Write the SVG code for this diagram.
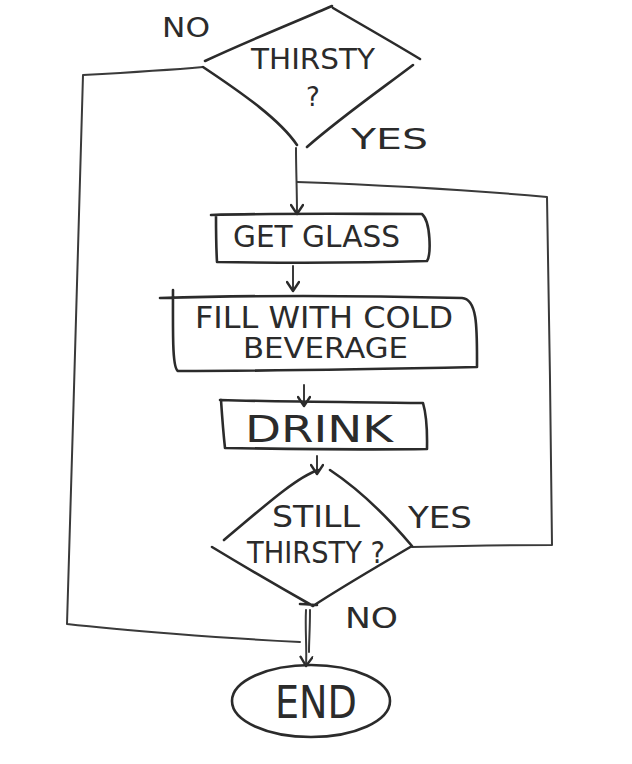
<svg xmlns="http://www.w3.org/2000/svg" width="632" height="764" viewBox="0 0 632 764">
<defs>
<style>
.s{fill:none;stroke:#2b2b2b;stroke-width:2.6;stroke-linecap:round;stroke-linejoin:round}
.c{fill:none;stroke:#3a3a3a;stroke-width:2;stroke-linecap:round;stroke-linejoin:round}
.t{font-family:"DejaVu Sans",sans-serif;fill:#2b2b2b;font-weight:400}
</style>
<marker id="ah" viewBox="0 0 14 14" refX="12" refY="7" markerWidth="14" markerHeight="14" markerUnits="userSpaceOnUse" orient="auto">
<path d="M3,1 L12,7 L3,13" fill="none" stroke="#2b2b2b" stroke-width="2.4" stroke-linecap="round" stroke-linejoin="round"/>
</marker>
</defs>
<rect width="632" height="764" fill="#ffffff"/>
<g id="connectors">
<path class="c" d="M203,67 C170,70 120,73 83,75 C80,200 72,450 67,624 C120,630 220,638 300,642"/>
<path class="c" d="M296,148 C296,170 297,190 297,214" marker-end="url(#ah)"/>
<path class="c" d="M297,182 C380,185 470,190 547,197 C549,300 551,440 552,545 C500,545 450,546 412,547"/>
<path class="c" d="M293,266 L293,291" marker-end="url(#ah)"/>
<path class="c" d="M304,385 L304,406" marker-end="url(#ah)"/>
<path class="c" d="M317,456 L317,474" marker-end="url(#ah)"/>
<path class="c" d="M306,610 C305,630 307,648 306,666" marker-end="url(#ah)"/>
<path class="c" d="M310,610 C310,630 309,640 309,652"/>
</g>
<g id="thirsty">
<path class="s" d="M205,61 C250,40 300,20 332,6 M333,8 C362,25 392,42 420,59 M413,65 C380,90 340,118 307,147 M297,145 C280,120 245,95 203,67"/>
<text class="t" x="251" y="69" font-size="29" textLength="124" lengthAdjust="spacingAndGlyphs">THIRSTY</text>
<text class="t" x="306" y="106" font-size="26">?</text>
</g>
<g id="label-no-top">
<text class="t" x="162" y="37" font-size="26" textLength="48" lengthAdjust="spacingAndGlyphs">NO</text>
</g>
<g id="label-yes-top">
<text class="t" x="351" y="149" font-size="29" textLength="77" lengthAdjust="spacingAndGlyphs">YES</text>
</g>
<g id="getglass">
<path class="s" d="M211,215 C280,213 360,214 422,214 C431,222 431,255 427,261 C360,263 280,263 217,262 C216,245 216,230 216,215"/>
<text class="t" x="233" y="247" font-size="30" textLength="167" lengthAdjust="spacingAndGlyphs">GET GLASS</text>
</g>
<g id="fill">
<path class="s" d="M160,298 C260,295 380,296 462,298 C478,299 477,330 477,367 C380,369 270,371 178,371 C172,368 173,330 173,290"/>
<text class="t" x="195" y="328" font-size="30" textLength="258" lengthAdjust="spacingAndGlyphs">FILL  WITH COLD</text>
<text class="t" x="243" y="358" font-size="28" textLength="165" lengthAdjust="spacingAndGlyphs">BEVERAGE</text>
</g>
<g id="drink">
<path class="s" d="M220,400 C290,402 360,402 423,403 C428,420 427,440 427,449 C360,450 290,449 225,448 C223,430 222,415 221,400"/>
<text class="t" x="245" y="442" font-size="38" textLength="148" lengthAdjust="spacingAndGlyphs">DRINK</text>
</g>
<g id="still">
<path class="s" d="M224,540 C260,510 295,478 318,470 M330,470 C360,490 390,520 412,546 C380,565 345,585 313,606 C290,593 250,570 212,547 M300,604 C308,604 314,605 317,605"/>
<text class="t" x="272" y="527" font-size="30" textLength="88" lengthAdjust="spacingAndGlyphs">STILL</text>
<text class="t" x="247" y="563" font-size="30" textLength="138" lengthAdjust="spacingAndGlyphs">THIRSTY ?</text>
</g>
<g id="label-yes-bottom">
<text class="t" x="408" y="528" font-size="30" textLength="64" lengthAdjust="spacingAndGlyphs">YES</text>
</g>
<g id="label-no-bottom">
<text class="t" x="345" y="628" font-size="28" textLength="53" lengthAdjust="spacingAndGlyphs">NO</text>
</g>
<g id="end">
<ellipse class="s" cx="311" cy="701" rx="79" ry="36"/>
<text class="t" x="275" y="718" font-size="44" textLength="82" lengthAdjust="spacingAndGlyphs">END</text>
</g>
</svg>
